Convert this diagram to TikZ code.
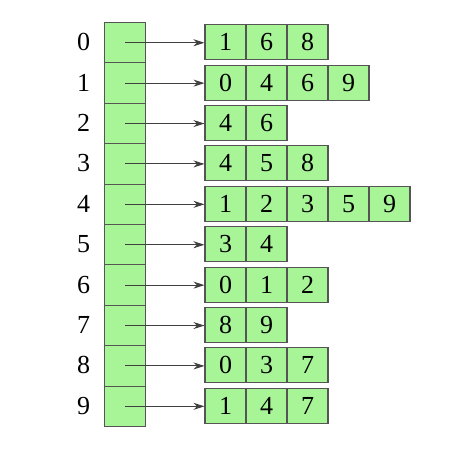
\documentclass[tikz,border=0pt]{standalone}
\usepackage{fontspec}
\setmainfont{Liberation Serif}
\usetikzlibrary{arrows.meta}
\definecolor{cellgreen}{RGB}{168,245,152}
\definecolor{edge}{RGB}{85,85,85}
\begin{document}
\begin{tikzpicture}[x=1pt,y=-1pt,
  idxcell/.style={draw=edge,fill=cellgreen,line width=1.1pt,minimum width=41pt,minimum height=40.4pt,inner sep=0pt,anchor=north west},
  listcell/.style={draw=edge,fill=cellgreen,line width=1.1pt,minimum width=41pt,minimum height=35pt,inner sep=0pt,font=\fontsize{26}{30}\selectfont},
  lbl/.style={font=\fontsize{26}{30}\selectfont,inner sep=0pt},
  ptr/.style={draw=black!75,line width=0.9pt,-{Stealth[length=11pt,width=7pt]}}]
\useasboundingbox (0,0) rectangle (456,454);
\foreach \i/\lst in {0/{1,6,8},1/{0,4,6,9},2/{4,6},3/{4,5,8},4/{1,2,3,5,9},5/{3,4},6/{0,1,2},7/{8,9},8/{0,3,7},9/{1,4,7}}{
  \node[idxcell] (L\i) at (104,{22+40.4*\i}) {};
  \node[lbl] (N\i) at (83.5,{42.2+40.4*\i}) {\i};
  \foreach \v [count=\j from 0] in \lst {
    \node[listcell] (C\i-\j) at ({225.5+41*\j},{42.2+40.4*\i}) {\v};
  }
  \draw[ptr] (L\i.center) -- (L\i.center -| C\i-0.west);
}
\end{tikzpicture}
\end{document}
